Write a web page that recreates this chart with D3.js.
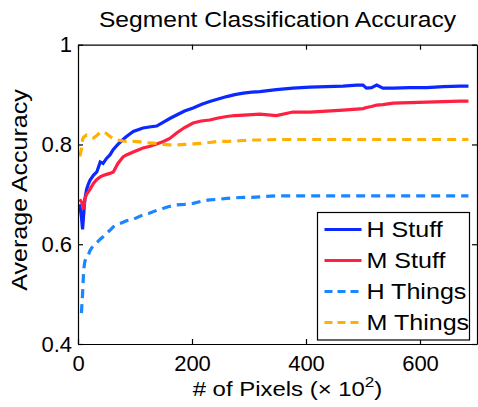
<!DOCTYPE html>
<html>
<head>
<meta charset="utf-8">
<script src="https://cdn.jsdelivr.net/npm/d3@7"></script>
<style>
  body { margin: 0; background: #fff; }
  svg { display: block; font-family: 'Liberation Sans', Arial, sans-serif; }
  .axis path, .axis line { stroke: #000; stroke-width: 1.2; }
  .axis text { fill: #000; font-size: 22px; }
</style>
</head>
<body>
<div id="chart"></div>
<script>
// x in units of 10^2 pixels
const pixels = [3, 6, 8, 10, 12, 15, 18, 21, 27, 33, 39, 44, 50, 56, 62, 70, 79, 85, 97, 114,
  125, 138, 150, 161, 173, 187, 202, 216, 231, 246, 261, 275, 290, 305, 319, 348, 377, 407,
  436, 465, 489, 500, 506, 515, 524, 535, 553, 582, 612, 641, 670, 685];

const hStuff = [0.68, 0.655, 0.63, 0.66, 0.69, 0.71, 0.72, 0.728, 0.738, 0.745, 0.765, 0.762,
  0.772, 0.779, 0.79, 0.80, 0.81, 0.816, 0.826, 0.833, 0.835, 0.837, 0.845, 0.852, 0.859,
  0.867, 0.873, 0.88, 0.886, 0.891, 0.896, 0.9, 0.903, 0.905, 0.906, 0.91, 0.913, 0.915,
  0.916, 0.917, 0.919, 0.919, 0.913, 0.914, 0.919, 0.913, 0.913, 0.914, 0.914, 0.916,
  0.917, 0.917];

const mStuff = [0.69, 0.685, 0.68, 0.67, 0.69, 0.70, 0.705, 0.71, 0.722, 0.73, 0.735, 0.738,
  0.74, 0.742, 0.745, 0.762, 0.775, 0.779, 0.785, 0.793, 0.796, 0.801, 0.806, 0.812, 0.823,
  0.834, 0.843, 0.847, 0.849, 0.853, 0.856, 0.858, 0.859, 0.86, 0.861, 0.858, 0.865, 0.865,
  0.867, 0.869, 0.871, 0.872, 0.874, 0.876, 0.879, 0.88, 0.883, 0.884, 0.885, 0.886,
  0.887, 0.887];

const hThings = [null, 0.462, 0.50, 0.55, 0.565, 0.575, 0.578, 0.587, 0.598, 0.603, 0.61,
  0.615, 0.622, 0.628, 0.635, 0.64, 0.644, 0.647, 0.65, 0.659, 0.662, 0.668, 0.672, 0.676,
  0.679, 0.68, 0.682, 0.686, 0.689, 0.69, 0.692, 0.693, 0.694, 0.694, 0.695, 0.697, 0.697,
  0.697, 0.697, 0.697, 0.697, 0.697, 0.697, 0.697, 0.697, 0.697, 0.697, 0.697, 0.697,
  0.697, 0.697, 0.697];

const mThings = [0.776, 0.79, 0.81, 0.815, 0.816, 0.819, 0.818, 0.815, 0.813, 0.818, 0.824,
  0.826, 0.822, 0.816, 0.812, 0.809, 0.807, 0.806, 0.806, 0.805, 0.803, 0.802, 0.8, 0.799,
  0.799, 0.8, 0.801, 0.802, 0.804, 0.806, 0.806, 0.807, 0.808, 0.809, 0.809, 0.81, 0.81,
  0.81, 0.81, 0.81, 0.81, 0.81, 0.81, 0.81, 0.81, 0.81, 0.81, 0.81, 0.81, 0.81, 0.81, 0.81];

const seriesNames = ['H Stuff', 'M Stuff', 'H Things', 'M Things'];
const xTicks = [0, 200, 400, 600];
const yTicks = [0.4, 0.6, 0.8, 1];

const series = [
  { name: seriesNames[0], values: hStuff, color: '#0a28ff', dash: null },
  { name: seriesNames[1], values: mStuff, color: '#ff1f40', dash: null },
  { name: seriesNames[2], values: hThings, color: '#1a86ff', dash: '9,6' },
  { name: seriesNames[3], values: mThings, color: '#ffb000', dash: '9,6' },
];

const margin = { top: 44.7, right: 1, bottom: 63, left: 78 };
const W = 478, H = 407;
const width = W - margin.left - margin.right;
const height = H - margin.top - margin.bottom;
const stretch = 1.14; // the original text is wider than it is tall

const svg = d3.select('#chart').append('svg')
  .attr('width', W)
  .attr('height', H)
  .append('g')
  .attr('transform', `translate(${margin.left},${margin.top})`);

const xScale = d3.scaleLinear().domain([0, 700]).range([0, width]);
const yScale = d3.scaleLinear().domain([0.4, 1]).range([height, 0]);

svg.append('defs').append('clipPath').attr('id', 'clip')
  .append('rect').attr('width', width).attr('height', height);

const line = d3.line()
  .defined(d => d[1] != null)
  .x(d => xScale(d[0]))
  .y(d => yScale(d[1]));

svg.append('g').attr('clip-path', 'url(#clip)')
  .selectAll('path')
  .data(series)
  .enter().append('path')
  .attr('d', s => line(pixels.map((x, i) => [x, s.values[i]])))
  .attr('fill', 'none')
  .attr('stroke', s => s.color)
  .attr('stroke-width', 3.2)
  .attr('stroke-dasharray', s => s.dash);

// box axes, ticks inward
svg.append('g')
  .attr('class', 'axis')
  .attr('transform', `translate(0,${height})`)
  .call(d3.axisBottom(xScale).tickValues(xTicks).tickSizeInner(-5).tickSizeOuter(0).tickPadding(11));

svg.append('g')
  .attr('class', 'axis')
  .call(d3.axisLeft(yScale).tickValues(yTicks).tickSizeInner(-5).tickSizeOuter(0).tickPadding(6)
    .tickFormat(d => d === 1 ? '1' : d3.format('.1f')(d)));

svg.append('g')
  .attr('class', 'axis')
  .call(d3.axisTop(xScale).tickValues(xTicks).tickSizeInner(-5).tickSizeOuter(0).tickFormat(''));

svg.append('g')
  .attr('class', 'axis')
  .attr('transform', `translate(${width},0)`)
  .call(d3.axisRight(yScale).tickValues(yTicks).tickSizeInner(-5).tickSizeOuter(0).tickFormat(''));

svg.selectAll('.axis text').style('font-size', '22px');

// title and labels
svg.append('text')
  .attr('transform', `translate(${width / 2},${27 - margin.top}) scale(${stretch - 0.02},1)`)
  .attr('text-anchor', 'middle')
  .style('font-size', '22px')
  .text('Segment Classification Accuracy');

const xlab = svg.append('text')
  .attr('transform', `translate(${width / 2 + 10},${396 - margin.top}) scale(${stretch},1)`)
  .attr('text-anchor', 'middle')
  .style('font-size', '21px');
xlab.append('tspan').text('# of Pixels (\u00d7 10');
xlab.append('tspan').attr('dy', -9).style('font-size', '15px').text('2');
xlab.append('tspan').attr('dy', 9).text(')');

svg.append('text')
  .attr('transform', `translate(${27 - margin.left},${190 - margin.top}) rotate(-90) scale(${stretch},1)`)
  .attr('text-anchor', 'middle')
  .style('font-size', '22px')
  .text('Average Accuracy');

// legend
const legend = svg.append('g')
  .attr('transform', `translate(${317.5 - margin.left},${212.5 - margin.top})`);

legend.append('rect')
  .attr('width', 152)
  .attr('height', 127.5)
  .attr('fill', '#fff')
  .attr('stroke', '#000')
  .attr('stroke-width', 1.2);

const item = legend.selectAll('g.item')
  .data(series)
  .enter().append('g')
  .attr('class', 'item')
  .attr('transform', (d, i) => `translate(0,${17 + i * 31})`);

item.append('line')
  .attr('x1', 7).attr('x2', 44)
  .attr('stroke', d => d.color)
  .attr('stroke-width', 3.2)
  .attr('stroke-dasharray', d => d.dash ? '8,5' : null);

item.append('text')
  .attr('transform', `translate(49,0) scale(${stretch},1)`)
  .attr('dy', '0.36em')
  .style('font-size', '22px')
  .text(d => d.name);
</script>
</body>
</html>
